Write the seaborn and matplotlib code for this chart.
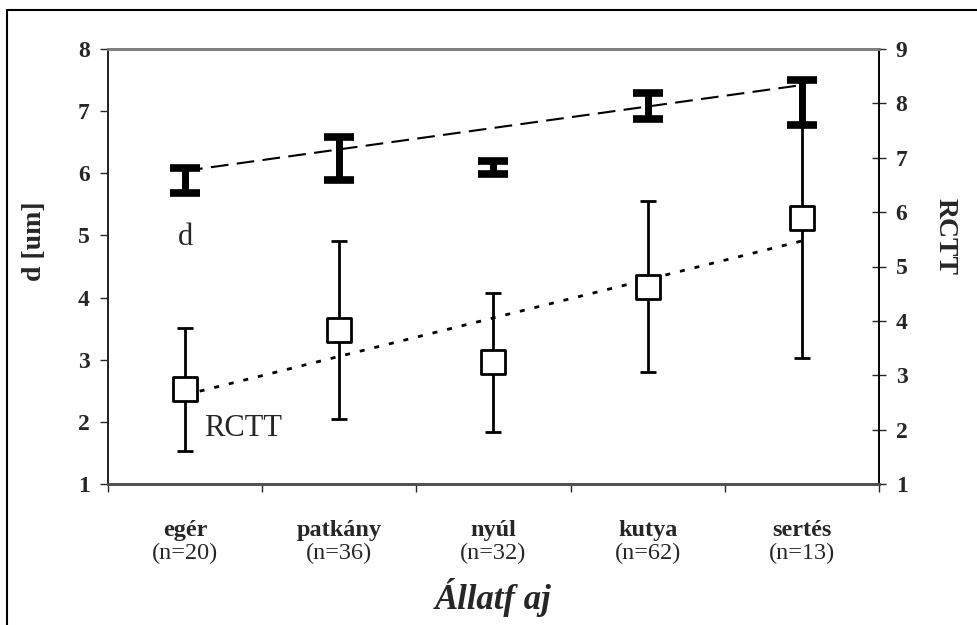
import numpy as np
import pandas as pd
import matplotlib
matplotlib.use("Agg")
import matplotlib.pyplot as plt
from matplotlib.patches import Rectangle
import seaborn as sns

# data
species = ['egér', 'patkány', 'nyúl', 'kutya', 'sertés']
n_counts = [20, 36, 32, 62, 13]
d_mean = [5.89, 6.24, 6.09, 7.09, 7.14]
d_err = [0.20, 0.35, 0.10, 0.21, 0.36]
rctt_mean = [2.74, 3.83, 3.24, 4.63, 5.89]
rctt_err = [1.13, 1.64, 1.28, 1.57, 2.57]
# trend lines (first / last category)
d_trend = [6.04, 7.42]
rctt_trend = [2.64, 5.47]
left_ticks = [1, 2, 3, 4, 5, 6, 7, 8]
right_ticks = [1, 2, 3, 4, 5, 6, 7, 8, 9]

sns.set_style('white')
plt.rcParams['font.family'] = ['Liberation Serif', 'DejaVu Serif']

df = pd.DataFrame({'pos': np.arange(len(species)), 'species': species,
                   'd': d_mean, 'd_err': d_err,
                   'rctt': rctt_mean, 'rctt_err': rctt_err})

fig = plt.figure(figsize=(9.78, 6.25), dpi=100)
ax = fig.add_axes([108 / 978, 1 - 484 / 625, 771 / 978, 435 / 625])
ax2 = ax.twinx()

# d series: thick error bars, no marker
ax.errorbar(df['pos'], df['d'], yerr=df['d_err'], fmt='none', ecolor='black',
            elinewidth=5, capsize=11, capthick=5.5, zorder=4)
ax.plot([df['pos'].iloc[0], df['pos'].iloc[-1]], d_trend, color='black',
        lw=1.5, dashes=(8.5, 4), zorder=3)

# RCTT series on right axis
ax2.errorbar(df['pos'], df['rctt'], yerr=df['rctt_err'], fmt='none', ecolor='black',
             elinewidth=2, capsize=5.5, capthick=2, zorder=2)
ax2.plot([df['pos'].iloc[0], df['pos'].iloc[-1]], rctt_trend, color='black',
         lw=2, dashes=(1.8, 3.6), zorder=3)
sns.scatterplot(data=df, x='pos', y='rctt', marker='s', s=290, color='white',
                edgecolor='black', linewidth=2, ax=ax2, zorder=4, legend=False)

ax.set_xlim(-0.5, len(species) - 0.5)
ax.set_ylim(1, 8)
ax2.set_ylim(1, 9)
ax.set_yticks(left_ticks)
ax2.set_yticks(right_ticks)
ax.set_yticklabels([str(t) for t in left_ticks], fontsize=17, fontweight='bold')
ax2.set_yticklabels([str(t) for t in right_ticks], fontsize=17, fontweight='bold')
ax.tick_params(axis='y', direction='out', length=6, width=1, pad=7, left=True)
ax2.tick_params(axis='y', direction='inout', length=10, width=1, pad=7, right=True)

# category ticks between groups, labels in the middle
ax.set_xticks(np.arange(-0.5, len(species), 1.0), minor=True)
ax.set_xticks([])
ax.tick_params(axis='x', which='minor', direction='out', length=6, width=1, bottom=True)
ax2.set_xlabel('')
ax2.set_ylabel('')
for i, (name, n) in enumerate(zip(species, n_counts)):
    ax.text(i, -0.106, name, transform=ax.get_xaxis_transform(), ha='center',
            va='center', fontsize=17.5, fontweight='bold')
    ax.text(i, -0.159, f'(n={n})', transform=ax.get_xaxis_transform(), ha='center',
            va='center', fontsize=17.5)

ax.text(0.5, -0.262, 'Állatf aj', transform=ax.transAxes, ha='center', va='center',
        fontsize=25, fontweight='bold', style='italic')
ax.text(-0.0947, 0.559, 'd [um]', transform=ax.transAxes, ha='center', va='center',
        rotation=90, fontsize=20, fontweight='bold')
ax2.text(1.0856, 0.568, 'RCTT', transform=ax.transAxes, ha='center', va='center',
         rotation=-90, fontsize=20, fontweight='bold')

# in-plot series names
ax.text(0, 4.97, 'd', ha='center', va='center', fontsize=22)
ax.text(0.376, 1.90, 'RCTT', ha='center', va='center', fontsize=22)

for a in (ax, ax2):
    a.spines['top'].set_color('#808080')
    a.spines['top'].set_linewidth(2)
    a.spines['bottom'].set_color('#505050')
    a.spines['bottom'].set_linewidth(2)
    a.spines['left'].set_color('#202020')
    a.spines['left'].set_linewidth(1.2)
    a.spines['right'].set_color('black')
    a.spines['right'].set_linewidth(1.2)

# outer frame (only left/top edges fall inside the image)
fig.add_artist(Rectangle((7.5 / 978, -0.1), 1.2, 1.1 - 9.5 / 625, fill=False,
                         edgecolor='black', lw=1.5, transform=fig.transFigure))

fig.savefig('out.png', dpi=100)
